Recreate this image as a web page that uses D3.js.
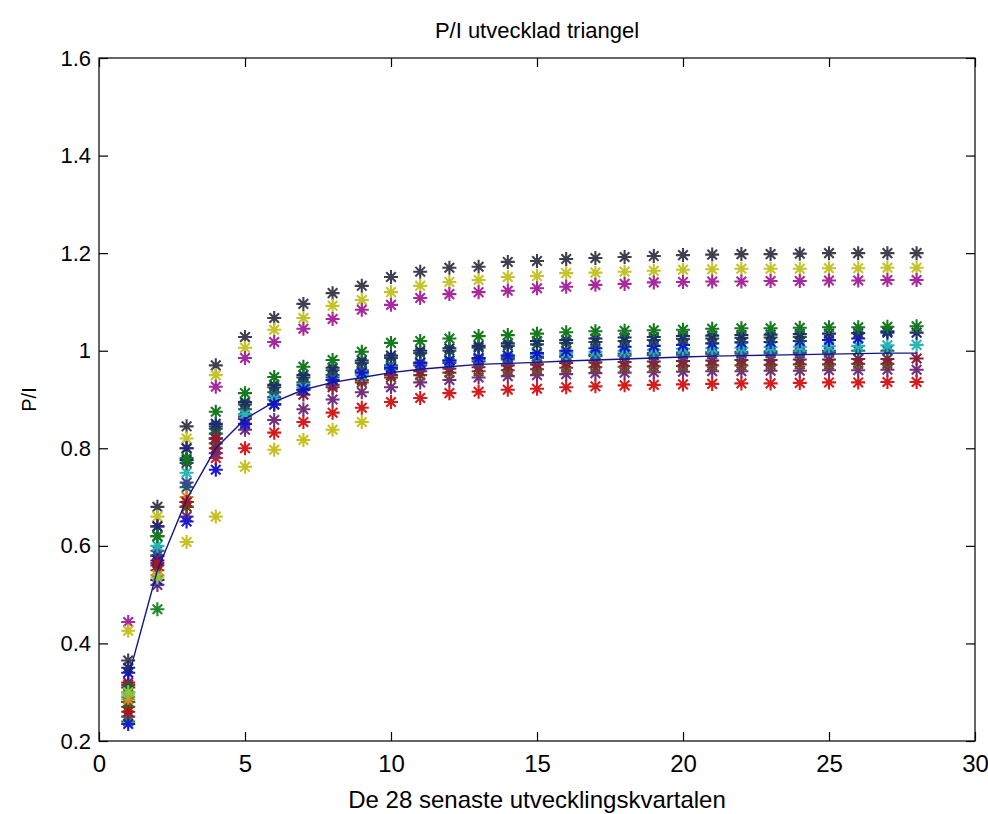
<!DOCTYPE html>
<html>
<head>
<meta charset="utf-8">
<script src="https://cdn.jsdelivr.net/npm/d3@7"></script>
<style>
  body { margin: 0; background: #fff; }
  text { font-family: "Liberation Sans", Arial, sans-serif; fill: #000; }
</style>
</head>
<body>
<div id="chart"></div>
<script>
// development quarters 1..28 (index + 1)
const xTicks = [0, 5, 10, 15, 20, 25, 30];
const yTicks = [0.2, 0.4, 0.6, 0.8, 1, 1.2, 1.4, 1.6];

const gray = [0.365,0.68,0.845,0.97,1.028,1.067,1.096,1.118,1.133,1.151,1.162,1.17,1.172,1.182,1.184,1.188,1.19,1.192,1.194,1.196,1.197,1.198,1.198,1.199,1.2,1.2,1.2,1.2];
const yellowTop = [0.295,0.66,0.82,0.95,1.006,1.043,1.067,1.092,1.104,1.12,1.133,1.141,1.145,1.151,1.153,1.159,1.16,1.162,1.164,1.166,1.167,1.168,1.168,1.168,1.169,1.169,1.17,1.17];
const magenta = [0.444,0.64,0.80,0.926,0.985,1.018,1.045,1.065,1.084,1.094,1.108,1.116,1.12,1.123,1.128,1.131,1.135,1.137,1.14,1.141,1.142,1.142,1.143,1.143,1.144,1.144,1.145,1.145];
const lowYellow = [0.426,0.53,0.608,0.66,0.762,0.797,0.817,0.838,0.854];
const green = [0.28,0.62,0.78,0.875,0.913,0.946,0.967,0.981,0.998,1.016,1.02,1.025,1.03,1.032,1.035,1.038,1.04,1.041,1.042,1.043,1.045,1.046,1.046,1.047,1.048,1.048,1.049,1.05];
const navy = [0.35,0.64,0.80,0.85,0.895,0.93,0.95,0.965,0.98,0.99,1.0,1.005,1.01,1.015,1.02,1.022,1.025,1.027,1.028,1.03,1.031,1.032,1.033,1.034,1.035,1.036,1.037,1.037];
const blue = [0.34,0.57,0.776,0.82,0.85,0.89,0.92,0.94,0.955,0.965,0.975,0.98,0.985,0.99,0.995,1.0,1.005,1.008,1.01,1.012,1.015,1.017,1.018,1.02,1.022,1.025,1.04];
const cyan = [0.29,0.60,0.75,0.82,0.87,0.90,0.925,0.94,0.95,0.967,0.975,0.98,0.985,0.99,0.993,0.995,0.998,1.0,1.002,1.004,1.005,1.006,1.007,1.008,1.009,1.01,1.011,1.012];
const teal = [0.28,0.58,0.72,0.83,0.88,0.915,0.935,0.95,0.96,0.97,0.975,0.98,0.982,0.985,0.988,0.99,0.992,0.994,0.995,0.996,0.997,0.998,0.999,1.0,1.0,1.0,1.0];
const maroon = [0.32,0.56,0.69,0.80,0.86,0.89,0.91,0.925,0.94,0.95,0.958,0.963,0.966,0.97,0.972,0.975,0.976,0.977,0.978,0.979,0.98,0.981,0.981,0.982,0.982,0.983,0.983,0.984];
const brown = [0.27,0.55,0.68,0.81,0.87,0.9,0.92,0.93,0.935,0.945,0.95,0.955,0.958,0.96,0.962,0.965,0.966,0.967,0.968,0.969,0.97,0.97,0.971,0.972,0.972,0.973,0.973];
const purple = [0.25,0.52,0.66,0.79,0.838,0.858,0.88,0.9,0.915,0.925,0.935,0.94,0.945,0.948,0.95,0.952,0.954,0.955,0.956,0.957,0.958,0.958,0.959,0.959,0.96,0.96,0.961,0.961];
const red = [0.315,0.58,0.68,0.78,0.80,0.832,0.854,0.873,0.883,0.895,0.903,0.913,0.916,0.92,0.922,0.925,0.927,0.929,0.93,0.931,0.932,0.933,0.933,0.934,0.935,0.935,0.936,0.936];
const darkGreen = [0.31,0.62,0.77,0.84,0.89,0.925,0.945,0.96,0.975,0.985,0.995,1.0,1.006,1.01,1.013,1.016,1.018,1.02,1.022,1.024,1.025,1.026,1.027,1.028];
const slate = [0.3,0.59,0.73,0.845,0.865,0.905,0.93,0.945,0.958,0.962,0.97,0.975,0.978,0.982,0.985,0.987,0.989,0.99,0.991,0.992,0.993,0.994,0.995,0.995,0.996];
const greenShort = [0.24,0.47];
const blueShort = [0.235,0.53,0.65,0.756];
const orange = [0.285,0.54,0.70];
const darkRed = [0.26,0.565,0.69,0.82];
const lime = [0.30,0.535];

const meanPI = [0.33,0.55,0.695,0.80,0.86,0.895,0.92,0.935,0.945,0.955,0.962,0.967,0.972,0.974,0.976,0.979,0.981,0.983,0.985,0.987,0.989,0.99,0.991,0.992,0.993,0.994,0.995,0.995];

const series = [
  {values: gray, color: "#3f3f4f"},
  {values: yellowTop, color: "#c4c42a"},
  {values: magenta, color: "#a8289e"},
  {values: lowYellow, color: "#c8c020"},
  {values: red, color: "#d41c1c"},
  {values: purple, color: "#74307e"},
  {values: brown, color: "#6b4b1e"},
  {values: maroon, color: "#8a1e3c"},
  {values: teal, color: "#1f5f6a"},
  {values: slate, color: "#3a4a8a"},
  {values: cyan, color: "#26b4b4"},
  {values: blue, color: "#1515cc"},
  {values: darkGreen, color: "#24583a"},
  {values: navy, color: "#1e2d6e"},
  {values: green, color: "#157a1e"},
  {values: greenShort, color: "#1f8a2a"},
  {values: blueShort, color: "#1a1ad0"},
  {values: orange, color: "#e0822a"},
  {values: darkRed, color: "#a01a1a"},
  {values: lime, color: "#8cc83c"}
];

const width = 988, height = 814;
const margin = {left: 99, right: 13, top: 58, bottom: 73};

const svg = d3.select("#chart").append("svg")
  .attr("width", width)
  .attr("height", height);

const x = d3.scaleLinear().domain([0, 30]).range([margin.left, width - margin.right]);
const y = d3.scaleLinear().domain([0.2, 1.6]).range([height - margin.bottom, margin.top]);

// markers (MATLAB '*')
const star = "M-7,0H7M0,-7V7M-4.8,-4.8L4.8,4.8M-4.8,4.8L4.8,-4.8";
series.forEach(s => {
  svg.append("g")
    .selectAll("path")
    .data(s.values)
    .enter()
    .append("path")
    .attr("d", star)
    .attr("transform", (d, i) => "translate(" + x(i + 1) + "," + y(d) + ")")
    .attr("stroke", s.color)
    .attr("stroke-width", 2.1)
    .attr("fill", "none");
});

// mean curve
svg.append("path")
  .datum(meanPI)
  .attr("fill", "none")
  .attr("stroke", "#14148c")
  .attr("stroke-width", 1.4)
  .attr("d", d3.line()
    .x((d, i) => x(i + 1))
    .y(d => y(d)));

// axes, MATLAB style: box with inward ticks on all sides
const tickLen = 9;
const yFmt = d => d === 1 ? "1" : d3.format(".1f")(d);

svg.append("g")
  .attr("transform", "translate(0," + y(0.2) + ")")
  .call(d3.axisBottom(x).tickValues(xTicks).tickSize(-tickLen).tickPadding(14))
  .call(g => g.select(".domain").remove())
  .call(g => g.selectAll("text").attr("font-size", 24).attr("font-family", "Liberation Sans, Arial"));

svg.append("g")
  .attr("transform", "translate(0," + y(1.6) + ")")
  .call(d3.axisTop(x).tickValues(xTicks).tickSize(-tickLen).tickFormat(""))
  .call(g => g.select(".domain").remove());

svg.append("g")
  .attr("transform", "translate(" + x(0) + ",0)")
  .call(d3.axisLeft(y).tickValues(yTicks).tickSize(-tickLen).tickPadding(8).tickFormat(yFmt))
  .call(g => g.select(".domain").remove())
  .call(g => g.selectAll("text").attr("font-size", 22).attr("font-family", "Liberation Sans, Arial"));

svg.append("g")
  .attr("transform", "translate(" + x(30) + ",0)")
  .call(d3.axisRight(y).tickValues(yTicks).tickSize(-tickLen).tickFormat(""))
  .call(g => g.select(".domain").remove());

svg.append("rect")
  .attr("x", x(0))
  .attr("y", y(1.6))
  .attr("width", x(30) - x(0))
  .attr("height", y(0.2) - y(1.6))
  .attr("fill", "none")
  .attr("stroke", "#000")
  .attr("stroke-width", 1.2);

svg.selectAll(".tick line").attr("stroke", "#000").attr("stroke-width", 1.2);

// labels
svg.append("text")
  .attr("x", (x(0) + x(30)) / 2)
  .attr("y", 38)
  .attr("text-anchor", "middle")
  .attr("font-size", 22)
  .text("P/I utvecklad triangel");

svg.append("text")
  .attr("x", (x(0) + x(30)) / 2)
  .attr("y", 808)
  .attr("text-anchor", "middle")
  .attr("font-size", 24)
  .text("De 28 senaste utvecklingskvartalen");

svg.append("text")
  .attr("transform", "translate(36," + y(0.9) + ") rotate(-90)")
  .attr("text-anchor", "middle")
  .attr("font-size", 20)
  .text("P/I");
</script>
</body>
</html>
